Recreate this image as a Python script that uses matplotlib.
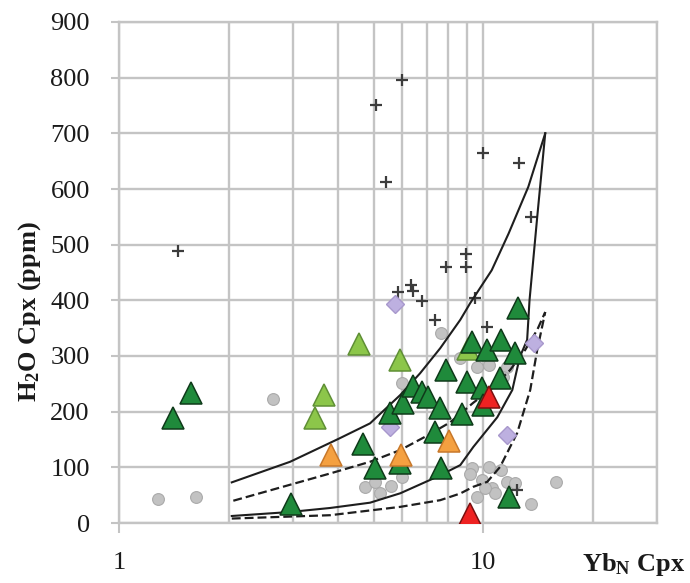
import matplotlib
matplotlib.use("Agg")
import matplotlib.pyplot as plt
from matplotlib.ticker import NullFormatter

plt.rcParams['font.family'] = ['Liberation Serif', 'DejaVu Serif']
plt.rcParams['mathtext.fontset'] = 'custom'
plt.rcParams['mathtext.rm'] = 'Liberation Serif:bold'
plt.rcParams['mathtext.bf'] = 'Liberation Serif:bold'
plt.rcParams['mathtext.it'] = 'Liberation Serif:bold'

# ---- data (Yb_N Cpx, H2O Cpx ppm) ----
dark_x = [1.41, 1.58, 2.97, 4.69, 5.06, 5.53, 5.92, 6.04, 6.41, 6.79, 7.06, 7.38, 7.62,
          7.65, 7.92, 8.74, 9.02, 9.31, 9.93, 10.0, 10.24, 11.09, 11.2, 12.19, 12.45, 11.74]
dark_y = [189, 234, 35, 142, 98, 198, 108, 215, 246, 236, 226, 164, 206,
          98, 274, 196, 254, 326, 242, 212, 311, 260, 328, 305, 386, 47]

light_x = [3.46, 3.66, 4.56, 5.92, 9.1]
light_y = [188, 230, 321, 292, 312]

orange_x = [3.82, 5.95, 8.03]
orange_y = [122, 123, 147]

red_x = [10.34, 9.21]
red_y = [227, 17]

purple_x = [5.71, 5.55, 13.75, 11.61]
purple_y = [394, 172, 324, 158]

cross_x = [1.45, 5.07, 5.98, 5.41, 7.92, 8.98, 8.98, 9.98, 12.56, 13.52, 6.34, 6.4,
           5.85, 6.79, 7.38, 9.51, 10.27, 12.4]
cross_y = [489, 751, 795, 613, 460, 484, 460, 665, 646, 550, 428, 416,
           415, 398, 365, 404, 352, 59]

gray_x = [1.28, 1.63, 2.65, 7.67, 6.0, 4.74, 5.05, 5.2, 5.57, 5.98, 15.8, 13.5, 9.64,
          9.31, 9.93, 10.34, 10.6, 10.8, 11.6, 8.66, 9.6, 10.4, 11.6, 11.35, 9.2, 10.1,
          11.2, 12.2]
gray_y = [43, 47, 223, 341, 251, 65, 74, 53, 66, 83, 74, 35, 46,
          98, 77, 101, 62, 53, 74, 296, 281, 284, 281, 263, 88, 62,
          95, 72]

# model curves
solid_up_x = [2.04, 2.95, 4.0, 4.89, 5.92, 6.71, 7.62, 8.65, 9.21, 10.55, 11.74, 13.3, 14.8]
solid_up_y = [73, 110, 151, 179, 230, 269, 314, 365, 395, 454, 520, 604, 700]
solid_lo_x = [2.04, 2.95, 3.8, 4.89, 5.92, 7.47, 8.65, 9.39, 10.93, 12.02, 12.6, 13.2, 13.4, 14.07, 14.8]
solid_lo_y = [12.6, 19.8, 27, 36.5, 53.4, 83, 104, 136.5, 190, 239, 298, 329, 400, 550, 700]
dash_up_x = [2.06, 3.8, 4.89, 5.92, 7.02, 8.12, 9.39, 10.45, 11.86, 13.04, 14.07, 14.8]
dash_up_y = [40, 89, 110, 131, 157, 181, 216, 239, 275, 311, 347, 379]
dash_lo_x = [2.04, 3.8, 5.92, 7.62, 8.65, 9.39, 10.26, 11.13, 12.4, 13.46, 14.07, 14.8]
dash_lo_y = [8, 14, 29, 41, 53, 65, 74, 101, 162, 239, 311, 379]

x_major = [1, 10]
x_major_labels = ['1', '10']
x_minor = [2, 3, 4, 5, 6, 7, 8, 9, 20, 30]
y_ticks = list(range(0, 901, 100))

fig = plt.figure(figsize=(6.9, 5.83), dpi=100)
ax = fig.add_axes([119/690, 1-523/583, (657-119)/690, (523-22)/583])
ax.set_xscale('log')
ax.set_xlim(1, 30)
ax.set_ylim(0, 900)
ax.set_xticks(x_major)
ax.set_xticklabels(x_major_labels)
ax.set_xticks(x_minor, minor=True)
ax.xaxis.set_minor_formatter(NullFormatter())
ax.set_yticks(y_ticks)

gc = '#c4c4c4'
ax.grid(True, which='both', color=gc, lw=1.7)
ax.set_axisbelow(True)
for s in ax.spines.values():
    s.set_color(gc)
    s.set_linewidth(1.7)
ax.tick_params(which='major', color=gc, width=1.5, labelsize=19, labelcolor='#1a1a1a')
ax.tick_params(axis='y', which='major', length=6, pad=15)
ax.tick_params(axis='x', which='major', length=7, pad=14)
ax.tick_params(which='minor', length=0)

# gray dots
ax.plot(gray_x, gray_y, 'o', ms=8.5, mfc='#c2c2c2', mec='#aaaaaa', mew=0.8, zorder=2)
# crosses
ax.plot(cross_x, cross_y, '+', ms=9, mew=1.6, color='#3c3c3c', zorder=2.2)

# curves
lc = '#1e1e1e'
ax.plot(solid_up_x, solid_up_y, '-', color=lc, lw=1.5, zorder=2.5)
ax.plot(solid_lo_x, solid_lo_y, '-', color=lc, lw=1.5, zorder=2.5)
ax.plot(dash_up_x, dash_up_y, color=lc, lw=1.6, ls=(0, (4, 1.8)), zorder=2.5)
ax.plot(dash_lo_x, dash_lo_y, color=lc, lw=1.6, ls=(0, (4, 1.8)), zorder=2.5)

# diamonds
ax.plot(purple_x, purple_y, 'D', ms=9.5, mfc='#bdb0e0', mec='#a898cc', mew=1, zorder=3)

# triangles
tri = dict(marker='^', ls='none', ms=16, mew=1.1, zorder=4)
ax.plot(light_x, light_y, mfc='#8cc64a', mec='#5f8f35', **tri)
ax.plot(dark_x, dark_y, mfc='#1f8a3b', mec='#0f3a1a', **tri)
ax.plot(orange_x, orange_y, mfc='#f4a040', mec='#c8782a', **tri)
ax.plot(red_x, red_y, mfc='#ee2222', mec='#7a1010', **tri)

fig.text(30/690, 1-312/583, r'H$_{\mathrm{2}}$O Cpx (ppm)', rotation=90, ha='center',
         va='center', fontsize=19, fontweight='bold', color='#1a1a1a')
fig.text(634/690, 1-565/583, r'Yb$_{\mathrm{N}}$ Cpx', ha='center', va='center',
         fontsize=19, fontweight='bold', color='#1a1a1a')

fig.savefig('out.png', dpi=100)
